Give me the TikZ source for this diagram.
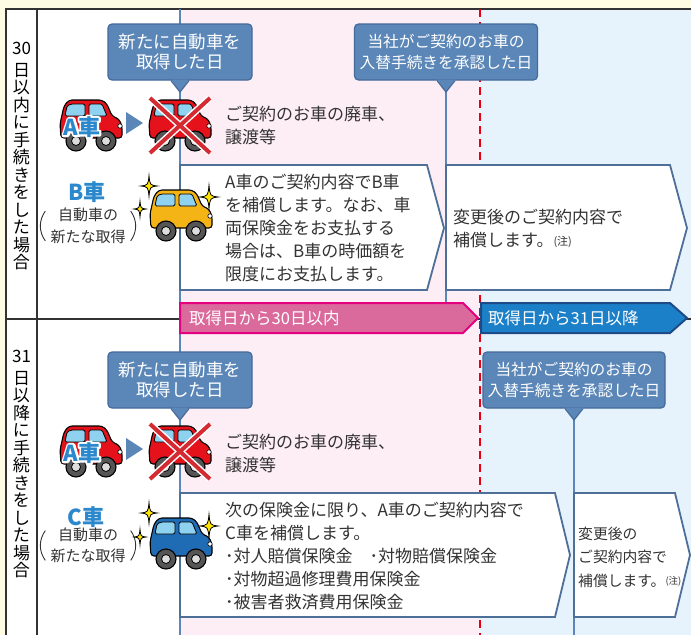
\documentclass[tikz,border=0pt]{standalone}
\usepackage{fontspec}
\setmainfont{Noto Sans CJK JP}
\usepackage{tikz}
\usetikzlibrary{positioning,calc}

\definecolor{cream}{HTML}{FFFCE4}
\definecolor{pinkbg}{HTML}{FDEDF4}
\definecolor{bluebg}{HTML}{E7F3FC}
\definecolor{steel}{HTML}{5B87B8}
\definecolor{steeldark}{HTML}{44699A}
\definecolor{boxedge}{HTML}{4D6F98}
\definecolor{barpink}{HTML}{DA6A9C}
\definecolor{barpinkedge}{HTML}{E4007F}
\definecolor{barblue}{HTML}{1C80C8}
\definecolor{barblueedge}{HTML}{1E4B86}
\definecolor{carlabel}{HTML}{2B88CC}
\definecolor{carred}{HTML}{E5121C}
\definecolor{caryellow}{HTML}{F5B416}
\definecolor{carblue}{HTML}{1F6BB4}
\definecolor{glass}{HTML}{8ED2F0}
\definecolor{wheelgray}{HTML}{555555}
\definecolor{hubgray}{HTML}{DDDDDD}
\definecolor{crossred}{HTML}{D42A32}
\definecolor{sparkle}{HTML}{FFE500}
\definecolor{rulegray}{HTML}{333333}
\definecolor{dashred}{HTML}{E60012}
\definecolor{textgray}{HTML}{333333}

% white stroked outline behind a label
\newcommand\halotext[1]{\special{pdf:literal direct 1 Tr 1 j 4 w 1 1 1 RG}#1\special{pdf:literal direct 0 Tr}}
\newcommand\carmark[1]{\rlap{\halotext{#1}}\textcolor{carlabel}{#1}}
% small "(注)" mark after a closing 。
\newcommand\notemark[1]{\raisebox{1.5pt}{\fontsize{#1}{#1}\selectfont(注)}}

\tikzset{
  % small side-view car, body colour as argument
  pics/car/.style={code={
    \filldraw[fill=#1, draw=black, line width=1.1pt, rounded corners=3pt]
      (-30,12) -- (-31,-2) -- (-27,-20) -- (-22,-26) -- (11,-26) -- (16,-22)
      -- (21,-10) -- (28,-7) -- (31,0) -- (31,12) -- cycle;
    \filldraw[fill=glass, draw=black, line width=0.8pt, rounded corners=1.5pt]
      (-24,-20) -- (-20,-22) -- (-6,-22) -- (-6,-10) -- (-26,-10) -- cycle;
    \filldraw[fill=glass, draw=black, line width=0.8pt, rounded corners=1.5pt]
      (-2,-22) -- (11,-22) -- (16,-10) -- (-2,-10) -- cycle;
    \filldraw[fill=white, draw=black, line width=0.6pt] (29,0) circle (2.2pt);
    \foreach \wx in {-15,15} {
      \filldraw[fill=wheelgray, draw=black, line width=1.1pt] (\wx,15) circle (10pt);
      \filldraw[fill=hubgray, draw=black, line width=0.8pt] (\wx,15) circle (4.5pt);
    }
  }},
  % four-point twinkle
  pics/sparkle/.style={code={
    \filldraw[fill=sparkle, draw=black, line width=0.8pt]
      (0,-1.3*#1) .. controls (0.12*#1,-0.12*#1) .. (#1,0)
      .. controls (0.12*#1,0.12*#1) .. (0,1.3*#1)
      .. controls (-0.12*#1,0.12*#1) .. (-#1,0)
      .. controls (-0.12*#1,-0.12*#1) .. (0,-1.3*#1) -- cycle;
  }}
}

\begin{document}
\begin{tikzpicture}[x=1pt, y=-1pt,
  % Table rules and time lines
  rule/.style={draw=rulegray, line width=1.6pt},
  timeline/.style={draw=steel, line width=2pt},
  % Rounded date callouts
  datecall/.style={rectangle, rounded corners=4pt, fill=steel, draw=steeldark,
    line width=1.2pt, text=white, align=center, inner sep=0pt,
    minimum height=56pt},
  % Arrow-shaped boxes and period bars
  arrowbox/.style={fill=white, draw=boxedge, line width=1.8pt, line join=miter},
  bartext/.style={anchor=west, inner sep=0pt, text=white,
    font=\fontsize{16.5}{18}\selectfont},
  % Body copy
  body/.style={anchor=west, inner sep=0pt, align=left, text=textgray,
    font=\fontsize{17}{23}\selectfont},
  % Left column, one character per line
  colhead/.style={anchor=north, inner sep=0pt, align=center, text=black,
    font=\fontsize{17}{17.5}\selectfont},
  carname/.style={inner sep=0pt, font=\bfseries\fontsize{22}{22}\selectfont},
  newcar/.style={inner sep=0pt, text=carlabel, font=\bfseries\fontsize{22}{22}\selectfont},
  acq/.style={inner sep=0pt, align=center, text=textgray,
    font=\fontsize{15}{21.5}\selectfont},
  paren/.style={draw=textgray, line width=0.9pt},
  cross/.style={line width=4pt, draw=crossred, line cap=butt},
]
  \useasboundingbox (0,0) rectangle (691,635);

  % === Backgrounds ===
  \fill[cream] (0,0) rectangle (691,635);
  \fill[white] (6,9) rectangle (180,635);
  \fill[pinkbg] (180,9) rectangle (480,635);
  \fill[bluebg] (480,9) rectangle (691,635);

  % === Table rules ===
  \draw[rule] (6,635) -- (6,9) -- (691,9);
  \draw[rule] (37,9) -- (37,635);
  \draw[rule] (6,319) -- (691,319);
  \draw[draw=dashred, line width=2.4pt, dash pattern=on 8pt off 5pt] (480,9) -- (480,635);
  \draw[timeline] (180,9) -- (180,635);

  % === Left column ===
  \node[colhead] (head30) at (21.5,42)
    {30\\[4pt]日\\以\\内\\に\\手\\続\\き\\を\\し\\た\\場\\合};
  \node[colhead] (head31) at (21.5,350)
    {31\\[4pt]日\\以\\降\\に\\手\\続\\き\\を\\し\\た\\場\\合};

  % === Date callouts and their time lines ===
  \coordinate (get1tip) at (180,92);
  \coordinate (ok1tip) at (446,92);
  \coordinate (ok1foot) at (446,303);
  \coordinate (get2tip) at (180,420);
  \coordinate (ok2tip) at (574,420);
  \coordinate (ok2foot) at (574,635);
  \draw[timeline] (ok1tip) -- (ok1foot);
  \draw[timeline] (ok2tip) -- (ok2foot);

  \node[datecall, minimum width=144pt, font=\fontsize{17.5}{20}\selectfont]
    (get1) at (180,52) {新たに自動車を\\取得した日};
  \node[datecall, minimum width=183pt, font=\fontsize{15.7}{21}\selectfont]
    (ok1) at (446,52) {当社がご契約のお車の\\入替手続きを承認した日};
  \node[datecall, minimum width=144pt, font=\fontsize{17.5}{20}\selectfont]
    (get2) at (180,380) {新たに自動車を\\取得した日};
  \node[datecall, minimum width=182pt, font=\fontsize{15.7}{21}\selectfont]
    (ok2) at (574,380) {当社がご契約のお車の\\入替手続きを承認した日};

  \foreach \c in {get1,ok1,get2,ok2} {
    \fill[steel] ([xshift=-9pt,yshift=1pt]\c.south) -- (\c tip)
      -- ([xshift=9pt,yshift=1pt]\c.south) -- cycle;
    \draw[steeldark, line width=1.2pt, line join=miter]
      ([xshift=-9pt]\c.south) -- (\c tip) -- ([xshift=9pt]\c.south);
  }

  % === Arrow boxes ===
  \draw[arrowbox] (180,165) -- (427,165) -- (444,228) -- (427,290) -- (180,290) -- cycle;
  \draw[arrowbox] (446,165) -- (670,165) -- (687,228) -- (670,290) -- (446,290) -- cycle;
  \draw[arrowbox] (180,493) -- (555,493) -- (570,555) -- (555,617) -- (180,617) -- cycle;
  \draw[arrowbox] (574,493) -- (675,493) -- (690,555) -- (675,617) -- (574,617) -- cycle;

  % === Period bars ===
  \filldraw[fill=barpink, draw=barpinkedge, line width=2pt, line join=miter]
    (180,303) -- (463,303) -- (478,318) -- (463,333) -- (180,333) -- cycle;
  \filldraw[fill=barblue, draw=barblueedge, line width=2pt, line join=miter]
    (481,303) -- (670,303) -- (687,318) -- (670,333) -- (481,333) -- cycle;
  \node[bartext] (within30) at (189,318) {取得日から30日以内};
  \node[bartext] (after31) at (488,318) {取得日から31日以降};

  % === Body copy ===
  \node[body] (lost1) at (225,125.5) {ご契約のお車の廃車、\\譲渡等};
  \node[body] (cover1) at (225,228.5)
    {A車のご契約内容でB車\\を補償します。なお、車\\両保険金をお支払する\\場合は、B車の時価額を\\限度にお支払します。};
  \node[body] (change1) at (453,229)
    {変更後のご契約内容で\\補償します。\notemark{11}};
  \node[body] (lost2) at (225,453.5) {ご契約のお車の廃車、\\譲渡等};
  \node[body] (cover2) at (225,556.5)
    {次の保険金に限り、A車のご契約内容で\\C車を補償します。\\･対人賠償保険金　･対物賠償保険金\\･対物超過修理費用保険金\\･被害者救済費用保険金};
  \node[body, font=\fontsize{14.8}{23.5}\selectfont] (change2) at (578,557)
    {変更後の\\ご契約内容で\\補償します。\notemark{9.5}};

  % === Cars, row 1 ===
  \pic at (91,126) {car=carred};
  \node[carname] (acar1) at (82,127) {\carmark{A車}};
  \fill[steel] (126,112) -- (126,134) -- (143,123) -- cycle;
  \pic at (180,126) {car=carred};
  \draw[white, line width=7pt] (150,98) -- (210,153) (210,98) -- (150,153);
  \draw[cross] (150,98) -- (210,153) (210,98) -- (150,153);

  \node[newcar] (bcar) at (87,192) {B車};
  \node[acq] (acq1) at (88,226) {自動車の\\新たな取得};
  \draw[paren] ([shift={(-5pt,-3pt)}]acq1.north west) to[bend right=35] ([shift={(-5pt,3pt)}]acq1.south west);
  \draw[paren] ([shift={(5pt,-3pt)}]acq1.north east) to[bend left=35] ([shift={(5pt,3pt)}]acq1.south east);
  \pic at (181,216) {car=caryellow};
  \pic at (149,186) {sparkle=8};
  \pic at (140,209) {sparkle=6};
  \pic at (209,197) {sparkle=9};

  % === Cars, row 2 ===
  \pic at (91,452) {car=carred};
  \node[carname] (acar2) at (82,453) {\carmark{A車}};
  \fill[steel] (126,438) -- (126,460) -- (143,449) -- cycle;
  \pic at (180,452) {car=carred};
  \draw[white, line width=7pt] (150,424) -- (210,479) (210,424) -- (150,479);
  \draw[cross] (150,424) -- (210,479) (210,424) -- (150,479);

  \node[newcar] (ccar) at (86,517) {C車};
  \node[acq] (acq2) at (88,545.5) {自動車の\\新たな取得};
  \draw[paren] ([shift={(-5pt,-3pt)}]acq2.north west) to[bend right=35] ([shift={(-5pt,3pt)}]acq2.south west);
  \draw[paren] ([shift={(5pt,-3pt)}]acq2.north east) to[bend left=35] ([shift={(5pt,3pt)}]acq2.south east);
  \pic at (181,544) {car=carblue};
  \pic at (149,513) {sparkle=8};
  \pic at (140,537) {sparkle=6};
  \pic at (209,526) {sparkle=9};
\end{tikzpicture}
\end{document}
